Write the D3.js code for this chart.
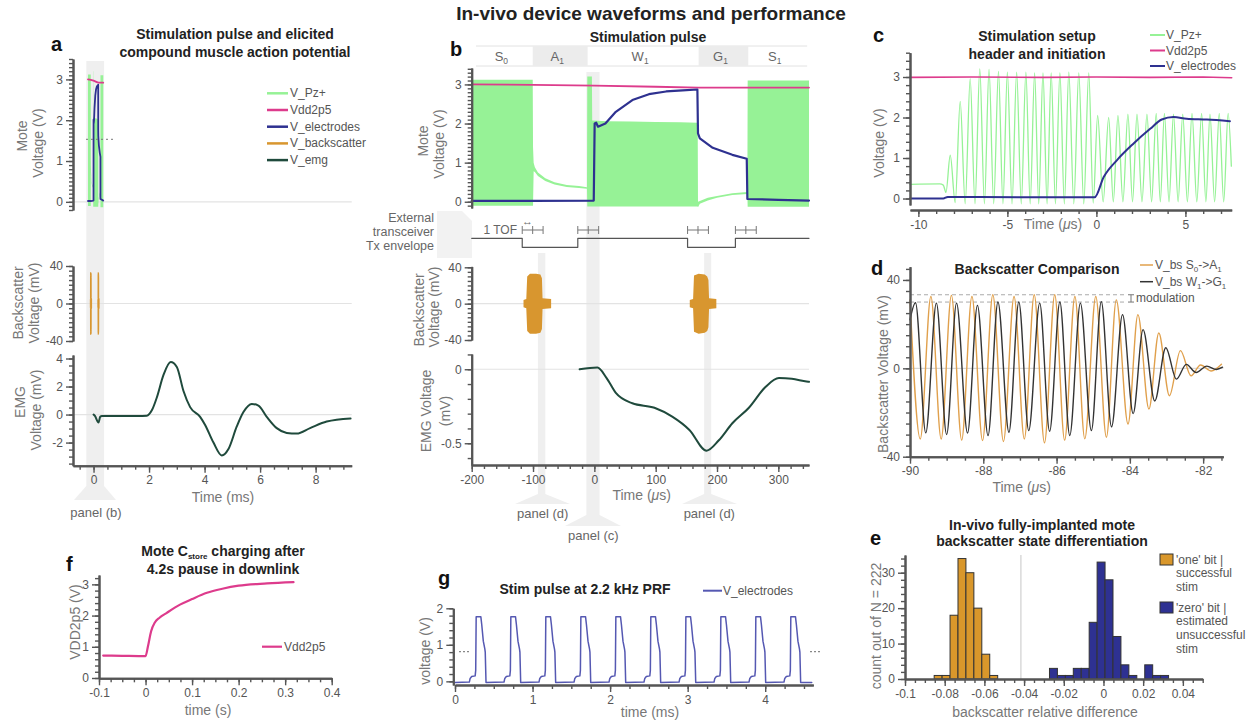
<!DOCTYPE html>
<html><head><meta charset="utf-8">
<script src="https://cdn.jsdelivr.net/npm/d3@7"></script>
<style>
body{margin:0;background:#fff;}
svg{font-family:"Liberation Sans",Arial,sans-serif;}
.ax path.domain{stroke:#555;stroke-width:2;}
.ax line{stroke:#555;stroke-width:1.4;}
.ax text{fill:#555;font-size:12px;font-family:"Liberation Sans",Arial,sans-serif;}
</style></head><body>
<svg id="c" width="1249" height="723"></svg>
<script>
// ================= DATA =================
// Panel b (and a, in ms) : mote waveforms, time in µs
const pzT  = [-200,-100.5,-100,-99,-97,-92,-80,-65,-45,-25,-12,-11.5,-4,-3.5,20,60,100,140,168.5,169,172,185,200,225,249.5,250,300,350];
const pzHi = [3.12,3.12,1.4,1.0,0.88,0.75,0.6,0.5,0.43,0.4,0.37,3.2,3.2,2.08,2.06,2.05,2.04,2.03,2.02,0.0,0.02,0.1,0.15,0.22,0.25,3.1,3.1,3.1];
const pzLo = [-0.1,-0.1,-0.1,0.78,0.76,0.66,0.53,0.44,0.38,0.35,0.33,-0.12,-0.12,-0.12,-0.12,-0.12,-0.12,-0.12,-0.12,-0.14,-0.05,0.03,0.1,0.17,0.2,-0.13,-0.13,-0.13];
const elT  = [-200,-100,-1,0.5,3,6,18,35,62,89,117,144,168,169,172,193,225,248.5,249.5,300,350];
const elV  = [0.02,0.02,0.03,2.0,2.02,1.92,2.0,2.3,2.6,2.75,2.82,2.85,2.87,1.75,1.62,1.38,1.2,1.1,0.07,0.05,0.03];
const vddT = [-200,-100,0,100,170,250,350];
const vddV = [3.0,2.99,2.97,2.94,2.92,2.92,2.92];
const bs1T = [-115.5,-111,-109.5,-105,-95,-88,-85.5,-84.5,-70.5];
const bs1A = [4,5,30,33,33,32,28,6,5];
const bs2T = [155.6,161,162.5,170,180,184,186,187,198.9];
const bs2A = [4,5,31,33,32,30,26,6,5];
const emgBT = [-24,5,20,35,62,98,127,155,183,203,225,252,279,301,322,346,350];
const emgBV = [0,0.011,-0.06,-0.16,-0.23,-0.26,-0.32,-0.41,-0.55,-0.48,-0.365,-0.26,-0.12,-0.06,-0.065,-0.083,-0.085];
const phaseName = ['S','A','W','G','S'];
const phaseSub  = ['0','1','1','1','1'];
const phaseStart = [-193,-100.5,-11,170,251];
const phaseEnd   = [-100.5,-11,170,251,347];
const envT  = [-200,-117.6,-117.6,-27,-27,152,152,230,230,350];
const envOn = [1,1,0,0,1,1,0,0,1,1];
const tofStart = [-117.6,-27,152,230];
const tofLen = 17;
// Panel a EMG, time in ms
const emgAT = [0,0.05,0.18,0.24,0.3,0.84,1.44,1.92,2.1,2.28,2.52,2.78,3.0,3.24,3.48,3.84,4.02,4.32,4.62,4.86,5.16,5.4,5.7,5.94,6.24,6.6,6.96,7.32,7.8,8.4,9.26];
const emgAV = [0,-0.1,-0.57,-0.16,-0.1,-0.11,-0.1,-0.08,0.3,1.22,2.83,3.75,3.4,1.68,0.53,-0.16,-0.74,-2.0,-2.92,-2.46,-0.85,0.18,0.76,0.64,-0.16,-0.97,-1.31,-1.36,-0.97,-0.5,-0.28];
// Panel c (µs)
const cPzLeadT = [-10.47,-8.8,-8.6];
const cPzLeadV = [0.35,0.36,0.33];
const cPzPeakT = [-8.21,-7.65,-7.09,-6.55,-6.03,-5.50,-5.00,-4.48,-3.96,-3.47,-3.00,-2.54,-2.05,-1.55,-0.99,-0.43,0.07,0.69,1.21,1.77,2.28,2.84,3.36,3.82,4.33,4.85,5.37,5.91,6.38,6.90,7.40];
const cPzPeakV = [1.07,2.4,2.96,3.2,3.19,3.14,3.12,3.12,3.12,3.1,3.1,3.1,3.1,3.12,3.1,3.1,2.05,2.0,2.05,2.08,2.08,2.08,2.1,2.1,2.08,2.08,2.1,2.1,2.08,2.1,2.1];
const cPzTroughT = [-8.45,-7.93,-7.37,-6.82,-6.29,-5.77,-5.25,-4.74,-4.22,-3.72,-3.24,-2.77,-2.30,-1.80,-1.27,-0.71,-0.18,0.38,0.95,1.49,2.03,2.56,3.10,3.59,4.08,4.59,5.11,5.64,6.15,6.64,7.15];
const cPzTroughV = [0.15,-0.1,-0.13,-0.13,-0.13,-0.13,-0.13,-0.13,-0.13,-0.13,-0.13,-0.13,-0.13,-0.13,-0.13,-0.13,-0.11,-0.08,-0.08,-0.08,-0.08,-0.08,-0.08,-0.08,-0.08,-0.08,-0.08,-0.08,-0.08,-0.08,-0.08];
const cPzTailT = [7.58];
const cPzTailV = [0.8];
const cElT = [-10.47,-8.6,-8.35,-4,-0.1,0.41,1.16,2.09,3.02,3.67,4.33,5.07,6.2,7.5];
const cElV = [0.0,0.0,0.04,0.03,0.03,0.53,0.95,1.36,1.72,1.95,2.01,1.97,1.95,1.91];
const cVddT = [-10.47,-7,-3,0,3,6,7.6];
const cVddV = [2.99,3.0,2.99,3.0,2.99,3.0,2.98];
// Panel d (µs, mV) extrema
const dOrT = [-90.0,-89.72,-89.43,-89.15,-88.87,-88.59,-88.31,-88.02,-87.74,-87.45,-87.16,-86.88,-86.61,-86.33,-86.05,-85.78,-85.50,-85.23,-84.93,-84.64,-84.37,-84.05,-83.78,-83.48,-83.21,-82.92,-82.62,-82.33,-82.07,-81.78,-81.5];
const dOrV = [31,-32,32.5,-32,33,-32.5,32.5,-32.7,33.3,-33.1,32.5,-32,33.3,-33.7,33.3,-32.5,32.5,-31.9,32.5,-31.2,31,-25.2,24.3,-18.4,16,-12.4,8,-3.4,1.5,-1.2,1.8];
const dBkT = [-90.0,-89.85,-89.57,-89.28,-89.0,-88.73,-88.43,-88.16,-87.87,-87.6,-87.3,-87.03,-86.76,-86.46,-86.19,-85.91,-85.64,-85.35,-85.05,-84.78,-84.5,-84.2,-83.91,-83.64,-83.32,-83.02,-82.73,-82.46,-82.19,-81.9,-81.64,-81.47];
const dBkV = [22,29.7,-29.2,29.5,-30,29.5,-29.3,28.5,-30.4,30,-28.9,30,-28.2,29.5,-28.5,30,-30.4,29.5,-28.2,30.2,-26.5,24.3,-20.5,17.5,-14.8,9.3,-4.9,1.8,-1.9,1,-0.5,0.5];
const dModHi = 33.3, dModLo = 30;
// Panel e histogram
const eBinW = 0.004;
const eOneX0 = [-0.0853,-0.0813,-0.0773,-0.0733,-0.0693,-0.0653,-0.0613,-0.0573];
const eOneN  = [1,1,18,34,30,20,7,1];
const eZeroX0 = [-0.0272,-0.0232,-0.0192,-0.0152,-0.0112,-0.0072,-0.0032,0.0008,0.0048,0.0088,0.0128,0.0168,0.0208,0.0248,0.0288];
const eZeroN  = [3,1,1,3,3,16,33,28,12,4,1,0,4,1,1];
const eThreshold = -0.0416;
// Panel f
const fT = [-0.091,-0.05,0,0.005,0.012,0.02,0.03,0.045,0.074,0.1,0.132,0.165,0.2,0.261,0.318];
const fV = [0.72,0.71,0.7,1.0,1.5,1.78,1.93,2.08,2.35,2.53,2.73,2.86,2.96,3.03,3.07];
// Panel g
const gPulseT = [0.185,0.632,1.083,1.535,1.986,2.437,2.889,3.34,3.791,4.242];
const gShapeDt = [0,0.01,0.03,0.075,0.082,0.088,0.148,0.16,0.18,0.2,0.205,0.215];
const gShapeV  = [-0.02,0.08,0.13,0.15,0.3,1.77,1.77,1.55,1.1,0.88,0.8,-0.03];
const gBase = -0.03, gEnd = 4.6;
// tick labels
const tMoteY = [0,1,2,3];
const tBsY = [-40,0,40];
const tEmgAY = [-2,0,2,4];
const tAX = [0,2,4,6,8];
const tEmgBY = [-0.5,0];
const tBX = [-200,-100,0,100,200,300];
const tCX = [-10,-5,0,5];
const tCY = [0,1,2,3];
const tDX = [-90,-88,-86,-84,-82];
const tDY = [-40,0,40];
const tEX = [-0.1,-0.08,-0.06,-0.04,-0.02,0,0.02,0.04];
const tEY = [0,10,20,30];
const tFX = [-0.1,0,0.1,0.2,0.3,0.4];
const tFY = [0,1,2,3];
const tGX = [0,1,2,3,4];
const tGY = [0,1,2];

// ================= STYLE =================
const C = {pz:'#96f296', vdd:'#dd3b8c', el:'#2e3190', bs:'#d8962f', emg:'#1f4a3c',
           dOr:'#e0a04c', dBk:'#333333', eOne:'#d9972b', eZero:'#2e3192', g:'#5558b2',
           stripe:'#efefef', tick:'#555', lab:'#777', title:'#222'};

const svg = d3.select('#c');
const rng = (a,b,s)=>d3.range(a,b+s*0.001,s).map(v=>+v.toFixed(5));

function yAxis(x, sc, major, minor){
  svg.append('g').attr('class','ax').attr('transform',`translate(${x},0)`)
    .call(d3.axisLeft(sc).tickValues(minor).tickSize(4).tickSizeOuter(0).tickFormat(''));
  svg.append('g').attr('class','ax').attr('transform',`translate(${x},0)`)
    .call(d3.axisLeft(sc).tickValues(major).tickSize(7).tickSizeOuter(0).tickFormat(d=>String(d)));
}
function xAxis(y, sc, major, minor){
  svg.append('g').attr('class','ax').attr('transform',`translate(0,${y})`)
    .call(d3.axisBottom(sc).tickValues(minor).tickSize(4).tickSizeOuter(0).tickFormat(''));
  svg.append('g').attr('class','ax').attr('transform',`translate(0,${y})`)
    .call(d3.axisBottom(sc).tickValues(major).tickSize(7).tickSizeOuter(0).tickFormat(d=>String(d)));
}
function path(pts, X, Y, color, w, curve){
  svg.append('path').datum(pts)
    .attr('d', d3.line().x(d=>X(d[0])).y(d=>Y(d[1])).curve(curve||d3.curveLinear))
    .attr('fill','none').attr('stroke',color).attr('stroke-width',w)
    .attr('stroke-linejoin','round').attr('stroke-linecap','round');
}
function zip(a,b){return a.map((v,i)=>[v,b[i]]);}
function text(x,y,s,o={}){
  const t = svg.append('text').attr('x',x).attr('y',y).text(s)
    .attr('font-size',o.size||12).attr('fill',o.fill||'#555')
    .attr('text-anchor',o.anchor||'start');
  if(o.bold) t.attr('font-weight','bold');
  if(o.mid) t.attr('dominant-baseline','central');
  return t;
}
function rlabel(x,y,s,size){
  return svg.append('text').attr('transform',`translate(${x},${y}) rotate(-90)`)
    .attr('text-anchor','middle').attr('dominant-baseline','central')
    .attr('font-size',size||14).attr('fill',C.lab).text(s);
}
function hline(x1,x2,y,color,w,dash){
  const l = svg.append('line').attr('x1',x1).attr('x2',x2).attr('y1',y).attr('y2',y)
    .attr('stroke',color).attr('stroke-width',w||1);
  if(dash) l.attr('stroke-dasharray',dash);
}
function poly(pts, fill){
  svg.append('polygon').attr('points',pts.map(p=>p.join(',')).join(' ')).attr('fill',fill);
}
function subText(x,y,main,sub,o={}){
  const t = text(x,y,'',o);
  t.append('tspan').text(main);
  t.append('tspan').text(sub).attr('font-size',(o.size||12)*0.65).attr('dy',3);
  return t;
}

// ================= MAIN TITLE =================
text(651,20,'In-vivo device waveforms and performance',{size:19,bold:true,anchor:'middle',fill:C.title});

// ================= PANEL A =================
const xA = d3.scaleLinear().domain([-0.74,9.3]).range([73,351.7]);
const yAm = d3.scaleLinear().domain([-0.2,3.5]).range([210,59]);
const yAb = d3.scaleLinear().domain([-40,40]).range([341,266]);
const yAe = d3.scaleLinear().domain([-3.65,4.25]).range([465.7,355]);
// stripe + funnel
svg.append('rect').attr('x',xA(-0.26)).attr('y',61).attr('width',xA(0.38)-xA(-0.26)).attr('height',426).attr('fill',C.stripe);
poly([[xA(-0.26),486],[xA(0.38),486],[116,500],[74,500]],C.stripe);
text(96,517,'panel (b)',{size:13,anchor:'middle',fill:'#666'});
hline(73,351.7,yAm(0),'#e3e3e3',1.2);
hline(73,351.7,yAb(0),'#e3e3e3',1.2);
hline(73,351.7,yAe(0),'#e3e3e3',1.2);
// mote
svg.append('path').datum(pzT.map((t,i)=>[t/1000,pzLo[i],pzHi[i]]))
  .attr('d',d3.area().x(d=>xA(d[0])).y0(d=>yAm(d[1])).y1(d=>yAm(d[2])))
  .attr('fill',C.pz);
path(zip(vddT.map(t=>t/1000),vddV),xA,yAm,C.vdd,1.8);
path(zip(elT.map(t=>t/1000),elV),xA,yAm,C.el,1.8);
hline(86,116,139.3,'#777',1,'2,3');
// backscatter
[[bs1T,bs1A],[bs2T,bs2A]].forEach(([T,A])=>{
  svg.append('path').datum(T.map((t,i)=>[t/1000,A[i]]))
   .attr('d',d3.area().x(d=>xA(d[0])).y0(d=>yAb(-d[1])).y1(d=>yAb(d[1])))
   .attr('fill',C.bs).attr('stroke',C.bs).attr('stroke-width',1);
});
// EMG
path(zip(emgAT,emgAV),xA,yAe,C.emg,2,d3.curveMonotoneX);
yAxis(73,yAm,tMoteY,rng(-0.2,3.5,0.1));
yAxis(73,yAb,tBsY,rng(-40,40,5));
yAxis(73,yAe,tEmgAY,rng(-3.5,4,0.5));
xAxis(465.7,xA,tAX,rng(-0.5,9,0.5));
text(223,502,'Time (ms)',{size:14,anchor:'middle',fill:C.lab});
rlabel(22,136,'Mote'); rlabel(38,143,'Voltage (V)');
rlabel(18,303,'Backscatter'); rlabel(34,303,'Voltage (mV)');
rlabel(20,402,'EMG'); rlabel(36,410,'Voltage (mV)');
text(51,51,'a',{size:20,bold:true,fill:'#111'});
text(235,39,'Stimulation pulse and elicited',{size:14,bold:true,anchor:'middle',fill:C.title});
text(235,57,'compound muscle action potential',{size:14,bold:true,anchor:'middle',fill:C.title});
// legend a
const legA = [['V_Pz+',C.pz],['Vdd2p5',C.vdd],['V_electrodes',C.el],['V_backscatter',C.bs],['V_emg',C.emg]];
legA.forEach((d,i)=>{
  const y = 93.3+i*16.7;
  hline(267,288,y,d[1],2.5);
  text(290,y,d[0],{size:12,mid:true});
});

// ================= PANEL B =================
const xB = d3.scaleLinear().domain([-200,350]).range([471.7,809]);
const yBm = d3.scaleLinear().domain([-0.16,3.42]).range([208,68]);
const yBb = d3.scaleLinear().domain([-40,41]).range([340,266.4]);
const yBe = d3.scaleLinear().domain([-0.647,0.103]).range([465,354]);
// stripes
svg.append('rect').attr('x',xB(-13)).attr('y',72).attr('width',xB(8.5)-xB(-13)).attr('height',444).attr('fill',C.stripe);
poly([[xB(-13),515],[xB(8.5),515],[621,526],[565,526]],C.stripe);
[[-92,-80,515,570],[179,190.5,682,737]].forEach(([a,b,l,r])=>{
  svg.append('rect').attr('x',xB(a)).attr('y',253).attr('width',xB(b)-xB(a)).attr('height',242).attr('fill',C.stripe);
  poly([[xB(a),494],[xB(b),494],[r,504],[l,504]],C.stripe);
});
text(542.7,518,'panel (d)',{size:13,anchor:'middle',fill:'#666'});
text(709.3,518,'panel (d)',{size:13,anchor:'middle',fill:'#666'});
text(593.3,540,'panel (c)',{size:13,anchor:'middle',fill:'#666'});
// phase header
hline(xB(phaseStart[0]),xB(phaseEnd[4]),46,'#e2e2e2',1);
hline(xB(phaseStart[0]),xB(phaseEnd[4]),66,'#e2e2e2',1);
phaseName.forEach((n,i)=>{
  if(i%2===1) svg.append('rect').attr('x',xB(phaseStart[i])).attr('y',46).attr('width',xB(phaseEnd[i])-xB(phaseStart[i])).attr('height',20).attr('fill','#ececec');
  const cx = (xB(phaseStart[i])+xB(phaseEnd[i]))/2;
  subText(cx-3,61,n,phaseSub[i],{size:13,anchor:'middle',fill:'#666'});
});
// mote
svg.append('path').datum(pzT.map((t,i)=>[t,pzLo[i],pzHi[i]]))
  .attr('d',d3.area().x(d=>xB(d[0])).y0(d=>yBm(d[1])).y1(d=>yBm(d[2])))
  .attr('fill',C.pz);
path(zip(vddT,vddV),xB,yBm,C.vdd,1.8);
path(zip(elT,elV),xB,yBm,C.el,2.2);
// Tx envelope
poly([[437,211],[462,211],[472,221],[472,258],[437,258]],'#f2f2f2');
text(434,218,'External',{size:12.5,anchor:'end',fill:'#666',mid:true});
text(434,232,'transceiver',{size:12.5,anchor:'end',fill:'#666',mid:true});
text(434,246,'Tx envelope',{size:12.5,anchor:'end',fill:'#666',mid:true});
const yEnv = d3.scaleLinear().domain([0,1]).range([247.3,238.3]);
path(zip(envT,envOn),xB,yEnv,'#555',1.2);
tofStart.forEach(t0=>{
  hline(xB(t0),xB(t0+2*tofLen),230,'#777',1);
  [0,1,2].forEach(k=>svg.append('line').attr('x1',xB(t0+k*tofLen)).attr('x2',xB(t0+k*tofLen))
    .attr('y1',226).attr('y2',234).attr('stroke','#777').attr('stroke-width',1));
});
text(517,230,'1 TOF',{size:12,anchor:'end',fill:'#666',mid:true});
text((xB(tofStart[0])+xB(tofStart[0]+tofLen))/2,221,'↔',{size:11,anchor:'middle',fill:'#666',mid:true});
// backscatter
hline(471.7,809,yBb(0),'#e3e3e3',1.2);
[[bs1T,bs1A],[bs2T,bs2A]].forEach(([T,A])=>{
  svg.append('path').datum(zip(T,A))
   .attr('d',d3.area().x(d=>xB(d[0])).y0(d=>yBb(-d[1])).y1(d=>yBb(d[1])))
   .attr('fill',C.bs);
});
// EMG
hline(471.7,809,yBe(0),'#e3e3e3',1.2);
path(zip(emgBT,emgBV),xB,yBe,C.emg,2,d3.curveMonotoneX);
yAxis(471.7,yBm,tMoteY,rng(-0.1,3.4,0.1));
yAxis(471.7,yBb,tBsY,rng(-40,40,5));
yAxis(471.7,yBe,tEmgBY,rng(-0.6,0.1,0.1));
xAxis(465,xB,tBX,rng(-200,340,20));
const tb = text(641.7,500,'Time (',{size:14,anchor:'middle',fill:C.lab});
tb.append('tspan').text('μ').attr('font-style','italic'); tb.append('tspan').text('s)');
rlabel(423,141,'Mote'); rlabel(439,144,'Voltage (V)');
rlabel(419,310,'Backscatter'); rlabel(434,307,'Voltage (mV)');
rlabel(426,411,'EMG Voltage'); rlabel(445,411,'(mV)');
text(450,56,'b',{size:20,bold:true,fill:'#111'});
text(648,42,'Stimulation pulse',{size:14,bold:true,anchor:'middle',fill:C.title});

// ================= PANEL C =================
const xC = d3.scaleLinear().domain([-10.47,7.6]).range([910,1231.7]);
const yC = d3.scaleLinear().domain([-0.16,3.6]).range([205,52.7]);
const cPz = zip(cPzLeadT,cPzLeadV).concat(zip(cPzPeakT,cPzPeakV),zip(cPzTroughT,cPzTroughV))
  .sort((a,b)=>a[0]-b[0]).concat(zip(cPzTailT,cPzTailV));
path(cPz,xC,yC,C.pz,1.3,d3.curveMonotoneX);
path(zip(cVddT,cVddV),xC,yC,C.vdd,1.6);
path(zip(cElT,cElV),xC,yC,C.el,2,d3.curveMonotoneX);
yAxis(910,yC,tCY,rng(0,3.6,0.2));
xAxis(210,xC,tCX,rng(-10,7,1));
const tc = text(1053,229,'Time (',{size:14,anchor:'middle',fill:C.lab});
tc.append('tspan').text('μ').attr('font-style','italic'); tc.append('tspan').text('s)');
rlabel(879,143,'Voltage (V)');
text(873,42,'c',{size:20,bold:true,fill:'#111'});
text(1037,41,'Stimulation setup',{size:14,bold:true,anchor:'middle',fill:C.title});
text(1037,59,'header and initiation',{size:14,bold:true,anchor:'middle',fill:C.title});
[['V_Pz+',C.pz],['Vdd2p5',C.vdd],['V_electrodes',C.el]].forEach((d,i)=>{
  const y = 35+i*15.5;
  hline(1150,1165,y,d[1],2);
  text(1166,y,d[0],{size:12,mid:true});
});

// ================= PANEL D =================
const xD = d3.scaleLinear().domain([-90,-81.45]).range([910,1223.3]);
const yD = d3.scaleLinear().domain([-40,46]).range([456.7,266.7]);
hline(910,1223.3,yD(0),'#cfcfcf',1);
hline(910,1126.7,yD(dModHi),'#aaa',1,'4,3');
hline(910,1126.7,yD(dModLo),'#aaa',1,'4,3');
path(zip(dOrT,dOrV),xD,yD,C.dOr,1.4,d3.curveMonotoneX);
path(zip(dBkT,dBkV),xD,yD,C.dBk,1.4,d3.curveMonotoneX);
svg.append('line').attr('x1',1131).attr('x2',1131).attr('y1',yD(dModHi)).attr('y2',yD(dModLo)).attr('stroke','#777');
hline(1128,1134,yD(dModHi),'#777',1); hline(1128,1134,yD(dModLo),'#777',1);
text(1136,(yD(dModHi)+yD(dModLo))/2,'modulation',{size:12,mid:true});
yAxis(910,yD,tDY,rng(-40,45,5));
xAxis(456.7,xD,tDX,rng(-90,-81.5,0.5));
const td = text(1021.7,491.7,'Time (',{size:14,anchor:'middle',fill:C.lab});
td.append('tspan').text('μ').attr('font-style','italic'); td.append('tspan').text('s)');
rlabel(883,374,'Backscatter Voltage (mV)');
text(871,275,'d',{size:20,bold:true,fill:'#111'});
text(1037,274,'Backscatter Comparison',{size:14,bold:true,anchor:'middle',fill:C.title});
[[['V_bs S','0','->A','1'],C.dOr],[['V_bs W','1','->G','1'],C.dBk]].forEach((d,i)=>{
  const y = 265+i*16.7;
  hline(1140,1153,y,d[1],1.5);
  const t = text(1155,y+4,'',{size:12});
  t.append('tspan').text(d[0][0]);
  t.append('tspan').text(d[0][1]).attr('font-size',8).attr('dy',3);
  t.append('tspan').text(d[0][2]).attr('dy',-3);
  t.append('tspan').text(d[0][3]).attr('font-size',8).attr('dy',3);
});

// ================= PANEL E =================
const xE = d3.scaleLinear().domain([-0.1,0.05]).range([905,1202.7]);
const yE = d3.scaleLinear().domain([0,35]).range([679,555]);
svg.append('line').attr('x1',xE(eThreshold)).attr('x2',xE(eThreshold)).attr('y1',555).attr('y2',679).attr('stroke','#d0d0d0').attr('stroke-width',1.2);
[[eOneX0,eOneN,C.eOne],[eZeroX0,eZeroN,C.eZero]].forEach(([X0,N,col])=>{
  svg.append('g').selectAll('rect').data(zip(X0,N).filter(d=>d[1]>0)).join('rect')
    .attr('x',d=>xE(d[0])).attr('width',d=>xE(d[0]+eBinW)-xE(d[0]))
    .attr('y',d=>yE(d[1])).attr('height',d=>yE(0)-yE(d[1]))
    .attr('fill',col).attr('stroke','#333').attr('stroke-width',1);
});
yAxis(905,yE,tEY,rng(0,34,2));
xAxis(679,xE,tEX,rng(-0.1,0.05,0.005));
text(1045,716.5,'backscatter relative difference',{size:14,anchor:'middle',fill:C.lab});
rlabel(876,626,'count out of N = 222');
text(870,545,'e',{size:20,bold:true,fill:'#111'});
text(1042,530,'In-vivo fully-implanted mote',{size:14,bold:true,anchor:'middle',fill:C.title});
text(1042,546,'backscatter state differentiation',{size:14,bold:true,anchor:'middle',fill:C.title});
[[C.eOne,554,["'one' bit |",'successful','stim']],[C.eZero,602,["'zero' bit |",'estimated','unsuccessful','stim']]].forEach(([col,y,lines])=>{
  svg.append('rect').attr('x',1160).attr('y',y).attr('width',13).attr('height',11).attr('fill',col).attr('stroke','#333');
  lines.forEach((s,k)=>text(1176,y+5.5+k*13.8,s,{size:12,mid:true}));
});

// ================= PANEL F =================
const xF = d3.scaleLinear().domain([-0.1,0.4]).range([99,331.7]);
const yF = d3.scaleLinear().domain([0,3.3]).range([678,575]);
path(zip(fT,fV),xF,yF,C.vdd,2.2,d3.curveMonotoneX);
yAxis(99,yF,tFY,rng(0,3.2,0.2));
xAxis(678.3,xF,tFX,rng(-0.1,0.4,0.025));
text(208,715,'time (s)',{size:14,anchor:'middle',fill:C.lab});
rlabel(75,622,'VDD2p5 (V)');
text(66,571,'f',{size:20,bold:true,fill:'#111'});
const tf = text(223,556,'Mote C',{size:14,bold:true,anchor:'middle',fill:C.title});
tf.append('tspan').text('store').attr('font-size',8).attr('dy',3);
tf.append('tspan').text(' charging after').attr('dy',-3);
text(223,573.5,'4.2s pause in downlink',{size:14,bold:true,anchor:'middle',fill:C.title});
hline(262,282,646.7,C.vdd,2.2);
text(284,646.7,'Vdd2p5',{size:12,mid:true});

// ================= PANEL G =================
const xG = d3.scaleLinear().domain([0,4.62]).range([455,813.3]);
const yG = d3.scaleLinear().domain([-0.1,2]).range([685,608.3]);
const gSeries = [[0,gBase]];
gPulseT.forEach(t0=>gShapeDt.forEach((dt,i)=>gSeries.push([t0+dt,gShapeV[i]])));
gSeries.push([gEnd,gBase]);
path(gSeries,xG,yG,C.g,1.5);
hline(459,469,651.7,'#888',1.2,'2,2');
hline(810,820,651.7,'#888',1.2,'2,2');
yAxis(453.3,yG,tGY,rng(0,2,0.2));
xAxis(685,xG,tGX,rng(0,4.5,0.25));
text(650,716.5,'time (ms)',{size:14,anchor:'middle',fill:C.lab});
rlabel(425,651,'voltage (V)');
text(438,585,'g',{size:20,bold:true,fill:'#111'});
text(585,594,'Stim pulse at 2.2 kHz PRF',{size:14,bold:true,anchor:'middle',fill:C.title});
hline(703,722,590.7,C.g,2);
text(723,590.7,'V_electrodes',{size:12,mid:true});
</script></body></html>
